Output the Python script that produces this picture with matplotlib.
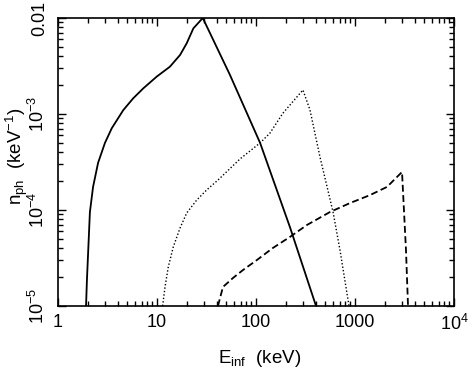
import numpy as np
import matplotlib
matplotlib.use('Agg')
import matplotlib.pyplot as plt
from matplotlib import ticker

# values (keV, keV^-1)
solid_e = [1.92, 1.96, 2.10, 2.26, 2.54, 2.98, 3.49, 4.57, 5.76, 7.27, 9.93,
           13.5, 17.1, 19.95, 23.3, 29.0, 54.6, 110, 220, 404]
solid_n = [1.0e-5, 1.87e-5, 9.5e-5, 1.74e-4, 3.1e-4, 5.0e-4, 7.1e-4, 1.10e-3,
           1.46e-3, 1.85e-3, 2.45e-3, 3.11e-3, 4.12e-3, 5.45e-3, 7.8e-3,
           1.0e-2, 2.55e-3, 5.0e-4, 6.65e-5, 1.0e-5]

dot_e = [11.4, 12.05, 13.0, 14.6, 17.1, 19.95, 25.2, 31.8, 41.3, 68.9, 110,
         138, 187, 298, 351, 443, 600, 705, 870]
dot_n = [1.0e-5, 1.58e-5, 2.55e-5, 4.12e-5, 6.5e-5, 9.3e-5, 1.27e-4, 1.62e-4,
         2.05e-4, 3.4e-4, 5.0e-4, 6.3e-4, 1.02e-3, 1.78e-3, 1.10e-3, 3.56e-4,
         9.55e-5, 3.83e-5, 1.0e-5]

dash_e = [41.3, 43.3, 46.4, 58.6, 73.9, 102, 148, 220, 327, 559, 889, 1418,
          2106, 2985, 3273, 3430]
dash_n = [1.0e-5, 1.21e-5, 1.58e-5, 1.96e-5, 2.37e-5, 3.01e-5, 4.02e-5,
          5.24e-5, 6.98e-5, 9.53e-5, 1.18e-4, 1.43e-4, 1.74e-4, 2.49e-4,
          3.83e-5, 1.02e-5]

xticks = [1, 10, 100, 1000, 1e4]
xticklabels = ['1', '10', '100', '1000', r'$10^4$']
yticks = [1e-5, 1e-4, 1e-3, 1e-2]
yticklabels = [r'$10^{-5}$', r'$10^{-4}$', r'$10^{-3}$', '0.01']

plt.rcParams['font.family'] = ['Liberation Sans', 'DejaVu Sans']
plt.rcParams['mathtext.fontset'] = 'custom'
plt.rcParams['mathtext.rm'] = 'Liberation Sans'
plt.rcParams['mathtext.it'] = 'Liberation Sans:italic'

fig = plt.figure(figsize=(4.73, 3.71), dpi=100)
ax = fig.add_axes([58/473, 65/371, 396/473, 288/371])

ax.plot(solid_e, solid_n, '-', color='black', lw=1.3)
ax.plot(dot_e, dot_n, color='black', lw=1.0, linestyle=(0, (1, 1.5)))
ax.plot(dash_e, dash_n, color='black', lw=1.3, linestyle=(0, (3.8, 1.9)))

ax.set_xscale('log')
ax.set_yscale('log')
ax.set_xlim(1, 1e4)
ax.set_ylim(1e-5, 1e-2)

ax.xaxis.set_major_locator(ticker.FixedLocator(xticks))
ax.xaxis.set_major_formatter(ticker.FixedFormatter(xticklabels))
ax.yaxis.set_major_locator(ticker.FixedLocator(yticks))
ax.yaxis.set_major_formatter(ticker.FixedFormatter(yticklabels))
ax.xaxis.set_minor_locator(ticker.LogLocator(subs=np.arange(2, 10)))
ax.yaxis.set_minor_locator(ticker.LogLocator(subs=np.arange(2, 10)))
ax.xaxis.set_minor_formatter(ticker.NullFormatter())
ax.yaxis.set_minor_formatter(ticker.NullFormatter())

ax.tick_params(which='both', direction='in', top=True, right=True, width=1.0)
ax.tick_params(which='major', length=5.5, labelsize=13)
ax.tick_params(which='minor', length=3.5)
ax.tick_params(axis='x', pad=6)
ax.tick_params(axis='y', pad=7)
for lab in ax.get_yticklabels():
    lab.set_rotation(90)
    lab.set_va('center')

for s in ax.spines.values():
    s.set_linewidth(1.2)

ax.set_xlabel(r'E$_{\mathregular{inf}}$  (keV)', fontsize=13.5)
ax.set_ylabel(r'n$_{\mathregular{ph}}$  (keV$^{-1}$)', fontsize=13.5)
ax.xaxis.set_label_coords(0.51, -0.145)
ax.yaxis.set_label_coords(-0.07, 0.52)

fig.savefig('out.png', dpi=100)
